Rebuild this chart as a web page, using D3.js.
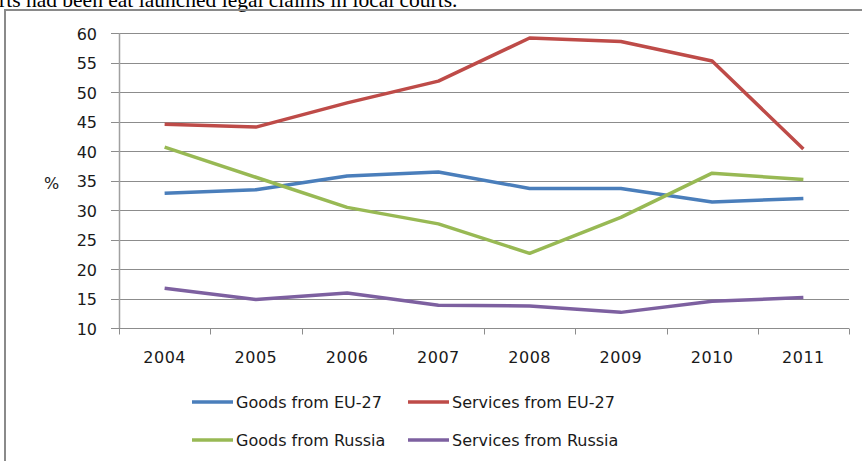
<!DOCTYPE html>
<html>
<head>
<meta charset="utf-8">
<script src="https://cdn.jsdelivr.net/npm/d3@7"></script>
<style>
  body { margin: 0; background: #ffffff; }
  svg { display: block; }
</style>
</head>
<body>
<svg id="chart" width="862" height="461"></svg>
<script>
// Chart values
var years = ["2004", "2005", "2006", "2007", "2008", "2009", "2010", "2011"];
var goodsEU = [32.9, 33.5, 35.8, 36.5, 33.7, 33.7, 31.4, 32.0];
var servicesEU = [44.6, 44.1, 48.2, 51.9, 59.2, 58.6, 55.3, 40.4];
var goodsRussia = [40.7, 35.6, 30.5, 27.7, 22.7, 28.8, 36.3, 35.2];
var servicesRussia = [16.8, 14.9, 16.0, 13.9, 13.8, 12.7, 14.6, 15.2];
var seriesNames = ["Goods from EU-27", "Services from EU-27", "Goods from Russia", "Services from Russia"];
var yTicks = [10, 15, 20, 25, 30, 35, 40, 45, 50, 55, 60];

var series = [
    {name: seriesNames[0], values: goodsEU, color: "#4a7ebb"},
    {name: seriesNames[1], values: servicesEU, color: "#be4b48"},
    {name: seriesNames[2], values: goodsRussia, color: "#98b954"},
    {name: seriesNames[3], values: servicesRussia, color: "#7d60a0"}
];

var svg = d3.select("#chart");
var font = "'DejaVu Sans', Verdana, sans-serif";

// plot area (note: "top" is taken by window.top, so prefix these)
var plotLeft = 119, plotRight = 849, plotTop = 33.3, plotBottom = 328.3;

var x = d3.scaleBand().domain(years).range([plotLeft, plotRight]);
var y = d3.scaleLinear().domain([10, 60]).range([plotBottom, plotTop]);

// leftover text line of the page above the chart
svg.append("text")
    .attr("x", -1)
    .attr("y", 7)
    .style("font-family", "'Liberation Serif', 'Times New Roman', serif")
    .style("font-size", "21.5px")
    .style("fill", "#000")
    .text("rts had been eat launched legal claims in local courts.");

// outer frame of the chart object
svg.append("path")
    .attr("d", "M5,470 L5,10 L870,10")
    .style("fill", "none")
    .style("stroke", "#8a8a8a")
    .style("stroke-width", 2);

// gridlines (they also act as the y tick marks)
svg.append("g")
    .selectAll("line")
    .data(yTicks)
    .enter()
    .append("line")
    .attr("x1", plotLeft - 8)
    .attr("x2", plotRight)
    .attr("y1", function(d) { return Math.round(y(d)) + 0.5; })
    .attr("y2", function(d) { return Math.round(y(d)) + 0.5; })
    .style("stroke", "#8c8c8c")
    .style("stroke-width", 1);

// y axis labels
var yAxis = d3.axisLeft(y).tickValues(yTicks).tickSize(0).tickPadding(0);
svg.append("g")
    .attr("transform", "translate(" + (plotLeft - 22) + ",0)")
    .call(yAxis)
    .call(function(g) { g.select(".domain").remove(); })
    .selectAll("text")
    .attr("dy", "0.36em")
    .style("font-family", font)
    .style("font-size", "16px")
    .style("fill", "#1a1a1a");

// y axis line
svg.append("line")
    .attr("x1", plotLeft + 0.5).attr("x2", plotLeft + 0.5)
    .attr("y1", plotTop).attr("y2", plotBottom)
    .style("stroke", "#a0a0a0")
    .style("stroke-width", 1.5);

// x axis with ticks at band edges
var xAxis = svg.append("g").attr("transform", "translate(0," + (Math.round(plotBottom) + 0.5) + ")");
xAxis.append("line")
    .attr("x1", plotLeft - 8).attr("x2", plotRight)
    .style("stroke", "#8c8c8c");
xAxis.selectAll(".edge")
    .data(years.concat(["end"]))
    .enter()
    .append("line")
    .attr("x1", function(d, i) { return Math.round(plotLeft + i * x.bandwidth()) + 0.5; })
    .attr("x2", function(d, i) { return Math.round(plotLeft + i * x.bandwidth()) + 0.5; })
    .attr("y1", 0).attr("y2", 6)
    .style("stroke", "#8c8c8c");
xAxis.selectAll(".lbl")
    .data(years)
    .enter()
    .append("text")
    .attr("x", function(d) { return x(d) + x.bandwidth() / 2; })
    .attr("y", 34.5)
    .attr("text-anchor", "middle")
    .style("font-family", font)
    .style("font-size", "16px")
    .style("letter-spacing", "0.5px")
    .style("fill", "#1a1a1a")
    .text(function(d) { return d; });

// axis title
svg.append("text")
    .attr("x", 44)
    .attr("y", 189)
    .style("font-family", font)
    .style("font-size", "16px")
    .style("fill", "#1a1a1a")
    .text("%");

// the lines
var line = d3.line()
    .x(function(d, i) { return x(years[i]) + x.bandwidth() / 2; })
    .y(function(d) { return y(d); });

svg.append("g")
    .selectAll("path")
    .data(series)
    .enter()
    .append("path")
    .attr("d", function(s) { return line(s.values); })
    .style("fill", "none")
    .style("stroke", function(s) { return s.color; })
    .style("stroke-width", 3.5)
    .style("stroke-linejoin", "round");

// legend, two rows by two columns
var legendPos = [[192, 402], [408, 402], [192, 440], [408, 440]];
var legend = svg.append("g")
    .selectAll("g")
    .data(series)
    .enter()
    .append("g")
    .attr("transform", function(s, i) { return "translate(" + legendPos[i][0] + "," + legendPos[i][1] + ")"; });
legend.append("line")
    .attr("x1", 0).attr("x2", 41)
    .style("stroke", function(s) { return s.color; })
    .style("stroke-width", 3.5);
legend.append("text")
    .attr("x", 44)
    .attr("y", 6)
    .style("font-family", font)
    .style("font-size", "16px")
    .style("fill", "#1a1a1a")
    .text(function(s) { return s.name; });
</script>
</body>
</html>
